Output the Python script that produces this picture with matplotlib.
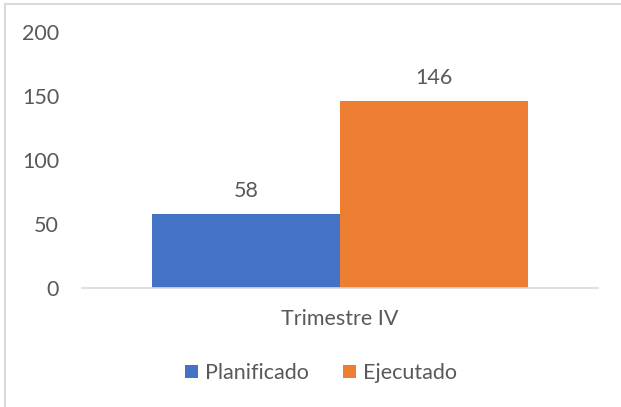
import matplotlib
matplotlib.use("Agg")
import matplotlib.pyplot as plt
from matplotlib.lines import Line2D

categories = ["Trimestre IV"]
series_names = ["Planificado", "Ejecutado"]
values_planificado = [58]
values_ejecutado = [146]
colors = ["#4472C4", "#ED7D31"]
yticks = [0, 50, 100, 150, 200]

plt.rcParams['font.family'] = ['Lato', 'DejaVu Sans']
txt = "#595959"
fs = 15.5

fig = plt.figure(figsize=(6.21, 4.07), dpi=100)
ax = fig.add_axes([82/621, 1-288/407, (598-82)/621, (288-32)/407])

w = 0.3645
x = range(len(categories))
b1 = ax.bar([i - w/2 for i in x], values_planificado, width=w, color=colors[0], label=series_names[0])
b2 = ax.bar([i + w/2 for i in x], values_ejecutado, width=w, color=colors[1], label=series_names[1])
for bars in (b1, b2):
    for r in bars:
        ax.text(r.get_x() + r.get_width()/2, r.get_height() + 10, f"{int(r.get_height())}",
                ha="center", va="bottom", fontsize=fs, color=txt)

ax.set_xlim(-0.5, 0.5)
ax.set_ylim(0, 200)
ax.set_yticks(yticks)
ax.set_yticklabels([str(t) for t in yticks], fontsize=fs, color=txt)
ax.set_xticks(list(x))
ax.set_xticklabels(categories, fontsize=fs, color=txt)
ax.tick_params(axis="both", length=0)
ax.tick_params(axis="y", pad=16.5)
ax.tick_params(axis="x", pad=15)
for s in ["top", "right", "left"]:
    ax.spines[s].set_visible(False)
ax.spines["bottom"].set_color("#D9D9D9")
ax.spines["bottom"].set_linewidth(1.2)

leg = fig.legend(handles=[b1, b2], labels=series_names, loc="center", bbox_to_anchor=(321/621, 1-373/407),
                 ncol=2, frameon=False, fontsize=fs, handlelength=0.6, handleheight=0.6,
                 handletextpad=0.3, columnspacing=1.6, labelcolor=txt)

fig.lines.append(Line2D([5/621, 1.0], [1-4/407, 1-4/407], transform=fig.transFigure,
                        color="#D9D9D9", linewidth=1.5))
fig.lines.append(Line2D([5/621, 5/621], [0, 1-4/407], transform=fig.transFigure,
                        color="#D9D9D9", linewidth=1.5))

fig.savefig("out.png", dpi=100)
